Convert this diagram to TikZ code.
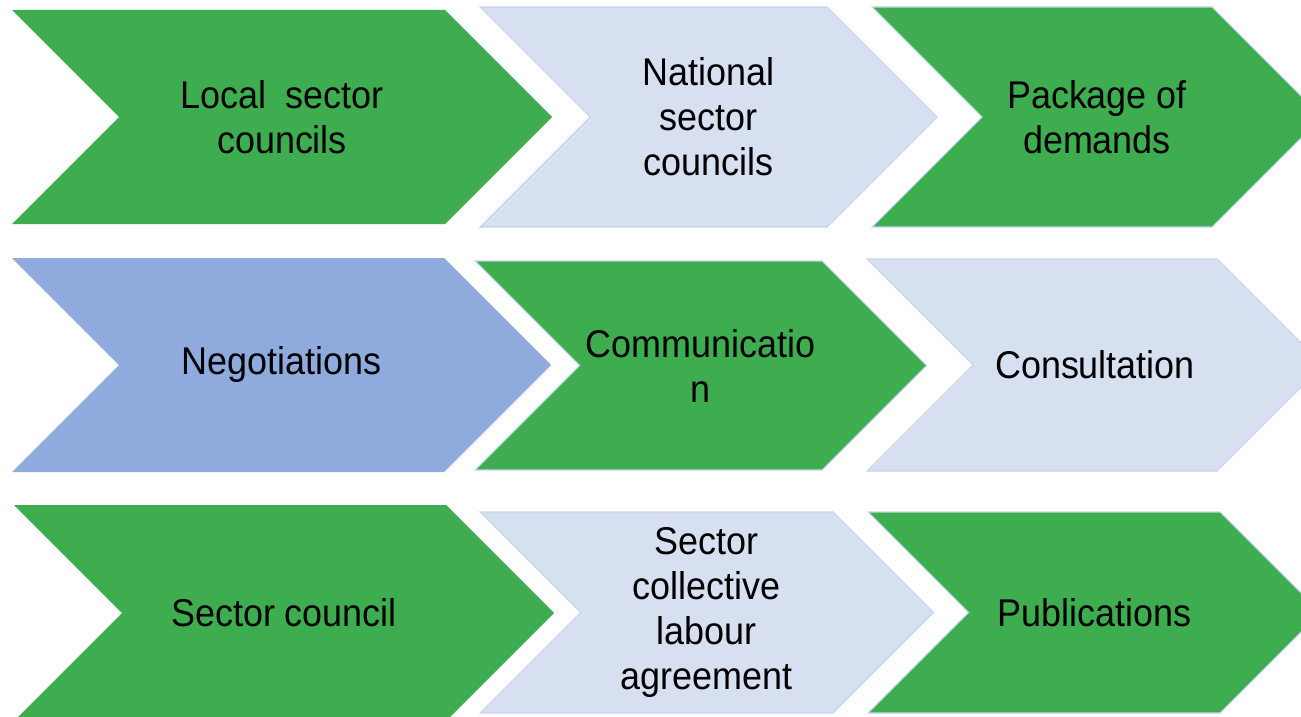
\documentclass[tikz,border=0pt]{standalone}
\usepackage{fontspec}
\setmainfont{Liberation Sans}[FakeStretch=0.93]
\usepackage{xcolor}
\definecolor{chgreen}{RGB}{62,173,80}
\definecolor{chpale}{RGB}{214,224,241}
\definecolor{chblue}{RGB}{143,170,220}
\definecolor{chedge}{RGB}{200,212,235}

\begin{document}
\begin{tikzpicture}[x=0.2mm,y=-0.2mm,
  flatgreen/.style={fill=chgreen},
  flatblue/.style={fill=chblue},
  dotgreen/.style={fill=chgreen,draw=chedge,line width=0.6pt},
  dotpale/.style={fill=chpale,draw=chedge,line width=0.6pt},
  lbl/.style={align=center,inner sep=0pt,font=\fontsize{22}{25.6}\selectfont}]
  \useasboundingbox (0,0) rectangle (1301,717);
  \clip (0,0) rectangle (1301,717);
  % left x, top-right x, top y, bottom y, style, name, label
  \foreach \xl/\xr/\yt/\yb/\fc/\nm/\txt in {
    12/445/10/224/flatgreen/local/{Local~ sector\\councils},
    480/827/7/227/dotpale/national/{National\\sector\\councils},
    872/1212/7/227/dotgreen/package/{Package of\\demands},
    12/444/258/472/flatblue/negot/{Negotiations},
    475/822/261/470/dotgreen/commun/{Communicatio\\n},
    867/1217/259/471/dotpale/consult/{Consultation},
    14/446/505/721/flatgreen/council/{Sector council},
    480/833/512/713/dotpale/agree/{Sector\\collective\\labour\\agreement},
    868/1220/512/713/dotgreen/public/{Publications}}{
    \pgfmathsetmacro{\dd}{(\yb-\yt)/2}
    \pgfmathsetmacro{\ym}{(\yt+\yb)/2}
    \pgfmathsetmacro{\cx}{(\xl+\xr+\dd)/2}
    \path[\fc] (\xl,\yt) -- (\xr,\yt) -- (\xr+\dd,\ym) -- (\xr,\yb)
      -- (\xl,\yb) -- (\xl+\dd,\ym) -- cycle;
    \node[lbl] (\nm) at (\cx,\ym) {\txt};
  }
\end{tikzpicture}
\end{document}
